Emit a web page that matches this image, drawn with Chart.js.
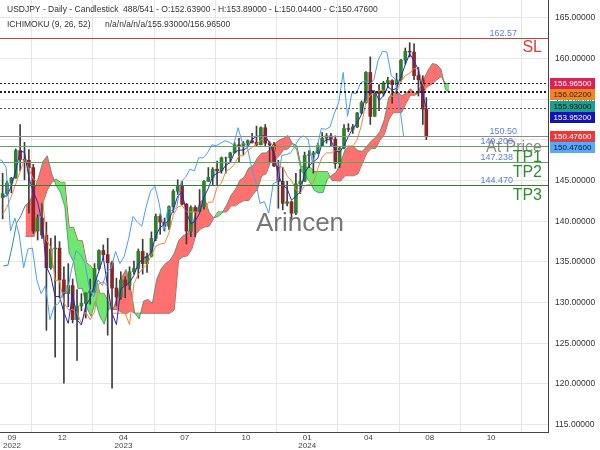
<!DOCTYPE html>
<html>
<head>
<meta charset="utf-8">
<script src="https://cdn.jsdelivr.net/npm/chart.js@4.4.1/dist/chart.umd.min.js"></script>
<style>
  html, body { margin: 0; padding: 0; background: #fff; }
</style>
</head>
<body>
<canvas id="myChart" width="600" height="450"></canvas>
<script>
// bar index of each (weekly) candle, 0 = left edge of the view
const barIndex = [
  3,8,13,18,23,28,33,38,43,48, 53,58,63,68,73,78,83,88,93,98,
  103,108,113,118,123,128,133,138,143,148, 153,158,163,168,173,178,183,188,193,198,
  203,208,213,218,223,228,233,238,243,248, 253,258,263,268,273,278,283,288,293,298,
  303,308,313,318,323,328,333,338,343,348, 353,358,363,368,373,378,383,388,393,398,
  403,408,413,418,423,428,433,438,443,448, 453,458,463,468,473,478,483,487
];
const opens = [
  142.9,143.4,144.7,145.3,148.7,147.6,147.5,146.6,138.8,140.4,
  138.3,134.3,136.6,136.7,132.8,131.1,132.1,127.9,129.6,129.9,
  131.2,131.4,134.2,136.4,135.9,134.9,131.8,130.7,132.8,132.1,
  133.8,134.2,136.3,134.8,135.7,137.9,140.6,139.9,139.4,141.8,
  143.7,144.3,142.1,138.8,141.7,141.2,141.8,144.9,145.4,146.4,
  146.2,147.8,147.8,148.4,149.4,149.3,149.6,149.9,149.7,149.4,
  151.5,149.6,149.4,146.8,144.9,142.2,142.4,141.0,144.6,144.9,
  148.1,148.2,148.4,149.3,150.2,150.5,150.1,147.1,149.0,151.4,
  151.3,151.6,153.3,154.6,158.3,152.9,155.8,155.7,157.0,157.3,
  156.8,157.4,159.8,160.9,160.8,157.9,157.4,153.8
];
const highs = [
  145.9,144.9,145.4,148.9,151.9,149.7,148.8,147.0,140.8,142.2,
  139.9,137.9,138.2,137.5,134.4,134.8,132.9,131.6,131.1,131.2,
  132.9,134.8,136.5,137.1,137.9,135.1,133.0,133.8,133.2,134.4,
  135.1,136.6,137.8,136.1,138.7,140.9,140.9,140.4,141.9,143.9,
  145.1,144.9,142.2,141.9,141.9,143.9,145.0,146.6,146.6,147.4,
  147.9,147.9,148.5,149.7,150.2,149.8,150.0,150.8,151.7,151.6,
  151.9,149.8,149.7,147.5,146.6,144.9,142.5,145.9,146.4,148.5,
  148.7,148.6,149.6,150.9,150.8,150.8,150.5,149.2,151.9,152.0,
  151.9,153.4,154.8,158.4,160.2,155.9,156.8,157.2,157.7,157.4,
  158.2,159.9,161.3,161.95,161.8,158.9,157.9,155.2
];
const lows = [
  140.3,143.3,143.5,145.3,146.2,145.1,141.0,138.5,137.7,137.9,
  126.6,134.1,123.3,130.6,120.1,129.5,127.5,122.9,129.0,128.1,
  129.8,131.2,134.0,135.3,126.0,119.5,129.6,130.4,130.6,131.6,
  133.5,133.0,133.5,133.7,135.6,137.6,138.4,138.8,139.0,141.1,
  143.3,142.0,137.2,138.1,138.1,141.0,141.5,144.9,144.5,144.4,
  145.9,145.9,147.3,148.4,147.3,148.2,149.3,149.6,149.2,149.4,
  149.2,147.2,146.7,141.6,141.4,141.9,140.3,140.8,143.4,144.9,
  146.6,145.9,148.3,149.2,149.6,149.2,146.5,146.6,148.9,151.0,
  150.8,151.5,153.2,154.5,151.9,152.9,153.6,155.4,156.4,154.5,
  155.7,157.2,159.3,160.2,157.4,155.4,151.9,150.04
];
const closes = [
  143.4,144.7,145.3,148.7,147.6,147.5,146.6,138.8,140.4,138.3,
  134.3,136.6,136.7,132.8,131.1,132.1,127.9,129.6,129.9,131.2,
  131.4,134.2,136.4,135.9,134.9,131.8,130.7,132.8,132.1,133.8,
  134.2,136.3,134.8,135.7,137.9,140.6,139.9,139.4,141.8,143.7,
  144.3,142.1,138.8,141.7,141.2,141.8,144.9,145.4,146.4,146.2,
  147.8,147.8,148.4,149.4,149.3,149.6,149.9,149.7,149.4,151.5,
  149.6,149.4,146.8,144.9,142.2,142.4,141.0,144.6,144.9,148.1,
  148.2,148.4,149.3,150.2,150.5,150.1,147.1,149.0,151.4,151.3,
  151.6,153.3,154.6,158.3,152.9,155.8,155.7,157.0,157.3,156.8,
  157.4,159.8,160.9,160.8,157.9,157.4,153.8,150.48
];
const tenkan = [
  143.1,143.1,144.35,146.2,148.6,148.5,145.35,143.65,142.35,139.95,
  134.4,133.25,130.75,130.75,128.8,127.45,131.15,127.9,127.25,129.65,
  130.5,132.3,133.85,135.55,131.95,128.7,127.3,131.7,132.1,132.5,
  133.35,134.8,135.4,135.65,136.2,138.25,139.25,139.65,140.15,141.45,
  143.1,143.55,141.05,139.7,140.0,141.0,143.0,144.05,145.55,145.9,
  146.15,146.9,147.2,148.5,148.75,148.75,149.1,150.05,150.45,150.45,
  150.55,149.55,148.25,145.65,144.45,144.0,142.6,143.1,143.6,145.95,
  146.8,147.3,147.75,149.6,150.05,150.0,148.65,148.5,149.25,150.45,
  151.4,152.1,153.15,155.8,156.05,156.05,154.85,155.4,156.55,156.1,
  156.35,157.8,159.25,160.6,159.7,158.6,155.4,153.95
];
const kijun = [
  140.85,141.75,143.1,144.6,146.1,147.6,146.45,145.2,144.8,143.7,
  137.7,136.8,132.75,132.75,130.0,129.15,129.15,128.8,127.45,128.85,
  127.9,128.85,132.3,132.6,131.95,128.7,128.7,128.7,128.7,127.3,
  132.35,133.5,134.2,134.7,135.85,136.95,137.2,137.3,138.55,140.75,
  141.75,141.95,141.15,141.15,141.15,141.05,141.1,142.35,142.35,144.2,
  144.7,146.15,146.45,147.05,148.05,148.05,148.75,149.05,149.5,149.95,
  150.55,149.55,149.3,146.75,146.65,145.6,145.0,143.9,143.45,144.4,
  144.5,144.75,146.5,147.9,148.4,148.4,148.7,148.7,149.2,149.25,
  149.25,150.0,151.85,154.6,155.5,155.85,156.05,156.05,156.05,155.3,
  155.9,157.2,157.9,158.2,158.8,158.7,156.9,156.02
];
const spanA = [
  141.98,142.43,143.73,145.4,147.35,148.05,145.9,144.43,143.58,141.83,
  136.05,135.03,131.75,131.75,129.4,128.3,130.15,128.35,127.35,129.25,
  129.2,130.58,133.08,134.08,131.95,128.7,128.0,130.2,130.4,129.9,
  132.85,134.15,134.8,135.18,136.03,137.6,138.23,138.48,139.35,141.1,
  142.43,142.75,141.1,140.43,140.58,141.03,142.05,143.2,143.95,145.05,
  145.43,146.53,146.83,147.78,148.4,148.4,148.93,149.55,149.98,150.2,
  150.55,149.55,148.78,146.2,145.55,144.8,143.8,143.5,143.53,145.18,
  145.65,146.03,147.13,148.75,149.23,149.2,148.68,148.6,149.23,149.85,
  150.33,151.05,152.5,155.2,155.78,155.95,155.45,155.73,156.3,155.7,
  156.13,157.5,158.58,159.4,159.25,158.65,156.15,155.93
];
const spanB = [
  138.15,138.15,138.15,140.3,142.25,143.85,144.75,145.2,144.8,144.8,
  139.25,139.25,137.6,137.6,134.9,134.45,133.55,131.15,131.15,130.0,
  129.15,129.15,128.8,128.6,129.0,128.7,128.7,128.7,128.7,128.7,
  128.7,128.7,128.7,128.7,129.1,135.25,135.65,135.75,136.55,138.45,
  139.05,139.3,139.4,140.35,141.15,141.15,141.15,141.9,141.9,142.3,
  142.55,142.55,143.3,143.9,145.6,145.85,147.3,147.6,148.05,148.8,
  148.9,149.55,149.3,146.75,146.65,146.65,146.1,146.1,146.1,146.1,
  145.05,145.0,144.95,145.6,145.6,145.6,145.85,147.15,148.4,148.95,
  148.95,149.95,150.65,152.45,153.35,153.35,153.4,154.55,155.5,155.5,
  155.85,156.05,156.6,156.9,157.4,157.8,156.9,156.965
];
// span A before span B has enough history (no cloud there)
const spanAPreIndex = [4, 9, 14, 19, 24];
const spanAPre = [134.5, 134.6, 136.95, 139.8, 140.7];
const shift = 26;

const yTicks = [115, 120, 125, 130, 135, 140, 145, 150, 155, 160, 165];
const xTickIndex = [1, 71, 141, 211, 281, 351, 421, 491, 561];
const xTickLabels = [['          09', '          2022'], '12', ['04', '2023'], '07', '10', ['01', '2024'], '04', '08', '10'];

const levelValues = [162.57, 150.50, 149.20, 147.238, 144.47];
const levelLabels = ['162.57', '150.50', '149.200', '147.238', '144.470'];
const indicatorValues = [156.965, 156.022, 155.93, 153.952];
const badgeValues = [156.965, 156.022, 155.93, 153.952, 150.476, 150.476];

const upColor = '#2f7f2f', downColor = '#8a2626', wickColor = '#3d3d3d';
const levelColors = ['#d83c3c', '#8c8c8c', '#5aa85a', '#5aa85a', '#2f802f'];
const badgeBg = ['#dc2252', '#f5831f', '#1f9e8c', '#1414b4', '#e23c3c', '#55aaff'];
const badgeFg = ['#fff', '#222', '#111', '#fff', '#fff', '#111'];
const FONT = '"Liberation Sans", Arial, sans-serif';

const xy = (xs, ys, dx) => xs.map((v, i) => ({x: v + dx, y: ys[i]}));

const overlay = {
  id: 'overlay',
  afterDatasetsDraw(chart) {
    const {ctx, chartArea: a, scales: {y}} = chart;
    ctx.save();
    ctx.beginPath();
    ctx.rect(a.left, a.top, a.right - a.left, a.bottom - a.top);
    ctx.clip();

    // dotted indicator levels
    ctx.setLineDash([2, 2]);
    ctx.lineWidth = 1;
    indicatorValues.forEach((v, i) => {
      const py = Math.round(y.getPixelForValue(v)) + 0.5;
      ctx.strokeStyle = i === 3 ? '#555' : '#222';
      ctx.beginPath(); ctx.moveTo(a.left, py); ctx.lineTo(a.right, py); ctx.stroke();
    });
    ctx.setLineDash([]);

    // trade levels
    levelValues.forEach((v, i) => {
      const py = Math.round(y.getPixelForValue(v)) + 0.5;
      ctx.strokeStyle = levelColors[i];
      ctx.beginPath(); ctx.moveTo(a.left, py); ctx.lineTo(a.right, py); ctx.stroke();
      ctx.fillStyle = '#5b7fe0';
      ctx.font = '9px ' + FONT;
      ctx.textAlign = 'right';
      ctx.textBaseline = 'middle';
      ctx.fillText(levelLabels[i], levelLabels[i].length > 6 ? 513 : 517, py - 5);
    });

    ctx.font = '16px ' + FONT;
    ctx.textAlign = 'right';
    ctx.textBaseline = 'middle';
    const ly = levelValues.map(v => y.getPixelForValue(v));
    ctx.fillStyle = '#d83c3c';
    ctx.fillText('SL', 542, ly[0] + 10);
    ctx.fillStyle = 'rgba(120,120,120,0.85)';
    ctx.fillText('At Price', 542, ly[2] + 1);
    ctx.fillStyle = '#2f8f2f';
    ctx.fillText('TP1', 542, ly[3] - 5);
    ctx.fillText('TP2', 542, ly[4] - 12);
    ctx.fillText('TP3', 542, ly[4] + 11);

    // watermark
    ctx.font = '26px ' + FONT;
    ctx.textAlign = 'center';
    ctx.fillStyle = 'rgba(95,95,95,0.85)';
    ctx.fillText('Arincen', 300, 224);

    // header
    ctx.font = '8.5px ' + FONT;
    ctx.textAlign = 'left';
    ctx.fillStyle = '#333';
    ctx.fillText('USDJPY - Daily - Candlestick', 7, 10);
    ctx.fillText('488/541 - O:152.63900 - H:153.89000 - L:150.04400 - C:150.47600', 123, 10);
    ctx.fillText('ICHIMOKU (9, 26, 52)', 7, 25);
    ctx.fillText('n/a/n/a/n/a/155.93000/156.96500', 105, 25);
    ctx.restore();
  },
  afterDraw(chart) {
    const {ctx, chartArea: a, scales: {y}} = chart;
    ctx.save();
    ctx.font = '8px ' + FONT;
    ctx.textAlign = 'center';
    ctx.textBaseline = 'middle';
    let prev = -100;
    badgeValues.forEach((v, i) => {
      let cy = y.getPixelForValue(v);
      if (cy < prev + 11.5) cy = prev + 11.5;
      prev = cy;
      ctx.fillStyle = badgeBg[i];
      ctx.fillRect(a.right + 2, Math.round(cy - 5.5), 45, 11);
      ctx.fillStyle = badgeFg[i];
      ctx.fillText(v.toFixed(5), a.right + 24.5, Math.round(cy - 5.5) + 6);
    });
    ctx.restore();
  }
};

const ctx = document.getElementById('myChart').getContext('2d');
const chart = new Chart(ctx, {
  type: 'bar',
  data: {
    datasets: [
      {
        type: 'line', label: 'Span B', data: xy(barIndex, spanB, shift),
        borderColor: 'rgba(190,50,60,0.9)', borderWidth: 1, pointRadius: 0, order: 10
      },
      {
        type: 'line', label: 'Span A', data: xy(barIndex, spanA, shift),
        borderColor: 'rgba(60,140,110,0.8)', borderWidth: 1, pointRadius: 0, order: 9,
        fill: {target: 0, above: 'rgba(255,96,96,0.9)', below: 'rgba(96,230,96,0.9)'}
      },
      {
        type: 'line', label: 'Span A (early)',
        data: xy(spanAPreIndex, spanAPre, 0).concat([{x: barIndex[0] + shift, y: spanA[0]}]),
        borderColor: '#2f8f86', borderWidth: 1, pointRadius: 0, order: 9
      },
      {
        label: 'Wick', data: barIndex.map((v, i) => ({x: v, y: [lows[i], highs[i]]})),
        backgroundColor: wickColor, barThickness: 1, grouped: false, order: 6
      },
      {
        label: 'Body', data: barIndex.map((v, i) => ({x: v, y: [opens[i], closes[i]]})),
        backgroundColor: c => (c.dataIndex !== undefined && closes[c.dataIndex] >= opens[c.dataIndex]) ? upColor : downColor,
        barThickness: 3, grouped: false, order: 5
      },
      {
        type: 'line', label: 'Kijun', data: xy(barIndex, kijun, 0),
        borderColor: '#f5843a', borderWidth: 1, pointRadius: 0, order: 3
      },
      {
        type: 'line', label: 'Tenkan', data: xy(barIndex, tenkan, 0),
        borderColor: '#2626c8', borderWidth: 1, pointRadius: 0, order: 2
      },
      {
        type: 'line', label: 'Chikou', data: xy(barIndex, closes, -shift),
        borderColor: '#4a9ef0', borderWidth: 1, pointRadius: 0, order: 1
      }
    ]
  },
  options: {
    responsive: false,
    animation: false,
    devicePixelRatio: 1,
    layout: {padding: 0},
    plugins: {legend: {display: false}, tooltip: {enabled: false}},
    events: [],
    scales: {
      x: {
        type: 'linear', min: 0, max: 626, offset: false,
        grid: {color: '#e6e6e6', drawTicks: false},
        border: {display: true, color: '#444'},
        afterBuildTicks: s => { s.ticks = xTickIndex.map(v => ({value: v})); },
        afterFit: s => { s.height = 18; s.paddingLeft = 0; s.paddingRight = 0; },
        ticks: {
          autoSkip: false, maxRotation: 0, padding: 2, color: '#444',
          font: {size: 8, family: FONT, lineHeight: 1},
          callback: (v, i) => xTickLabels[i]
        }
      },
      y: {
        type: 'linear', position: 'right', min: 114.1, max: 167.2,
        grid: {color: '#e6e6e6', drawTicks: false},
        border: {display: true, color: '#444'},
        afterBuildTicks: s => { s.ticks = yTicks.map(v => ({value: v})); },
        afterFit: s => { s.width = 52; s.paddingTop = 0; s.paddingBottom = 0; },
        ticks: {
          padding: 7, color: '#333',
          font: {size: 8.5, family: FONT},
          callback: v => Number(v).toFixed(5)
        }
      }
    }
  },
  plugins: [overlay]
});
</script>
</body>
</html>
